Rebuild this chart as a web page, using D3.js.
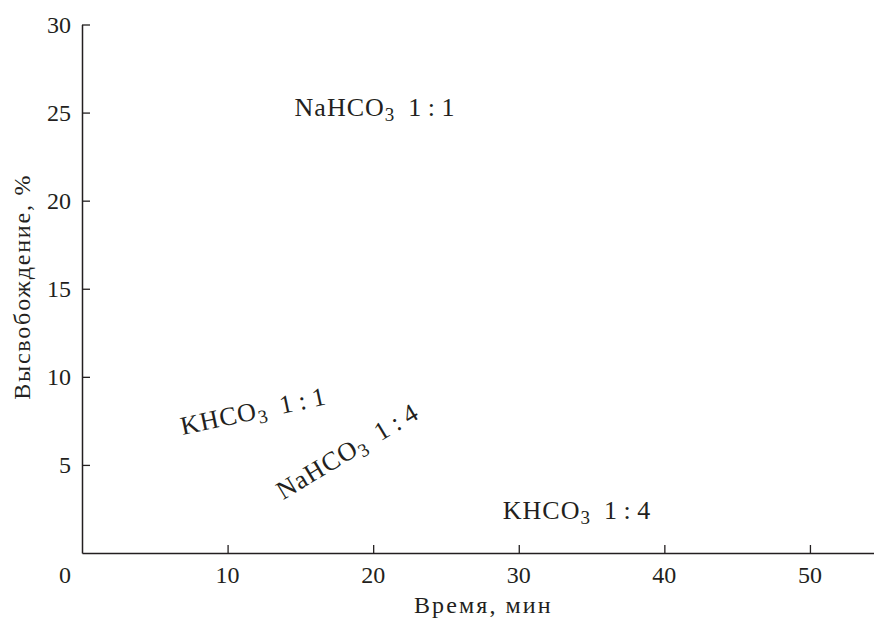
<!DOCTYPE html>
<html>
<head>
<meta charset="utf-8">
<script src="https://cdn.jsdelivr.net/npm/d3@7"></script>
<style>
  body { margin: 0; background: #fff; }
  text { font-family: "Liberation Serif", "Times New Roman", serif; fill: #231f20; }
</style>
</head>
<body>
<svg id="chart" width="874" height="619"></svg>
<script>
// Axis ticks
const xTicks = [10, 20, 30, 40, 50];
const yTicks = [5, 10, 15, 20, 25, 30];
const xDomain = [0, 54.4];
const yDomain = [0, 30];

// Annotation labels (no data curves are drawn in the reference)
const labelNames = ["NaHCO", "KHCO", "NaHCO", "KHCO"];
const labelRatios = ["1 : 1", "1 : 1", "1 : 4", "1 : 4"];
const labelX = [14.6, 6.9, 13.8, 28.9];
const labelY = [24.8, 6.7, 3.0, 1.93];
const labelAngle = [0, -12, -31, 0];

const svg = d3.select("#chart");
const margin = { left: 82, right: 0, top: 24.5, bottom: 66 };
const W = 874, H = 619;

const x = d3.scaleLinear().domain(xDomain).range([margin.left, W - margin.right]);
const y = d3.scaleLinear().domain(yDomain).range([H - margin.bottom, margin.top]);

const ink = "#231f20";
const fs = 24;
const lfs = 26;

// X axis
const xAxis = svg.append("g")
  .attr("transform", `translate(0,${y(0)})`)
  .call(d3.axisTop(x).tickValues(xTicks).tickSize(8).tickSizeOuter(0).tickFormat(""));
xAxis.select(".domain").attr("stroke", ink).attr("stroke-width", 1.5);
xAxis.selectAll(".tick line").attr("stroke", ink).attr("stroke-width", 1.3);

svg.append("g").selectAll("text").data(xTicks).join("text")
  .attr("x", d => x(d))
  .attr("y", y(0) + 30)
  .attr("text-anchor", "middle")
  .attr("font-size", fs)
  .text(d => d);

// Y axis
const yAxis = svg.append("g")
  .attr("transform", `translate(${x(0)},0)`)
  .call(d3.axisRight(y).tickValues(yTicks).tickSize(8).tickSizeOuter(0).tickFormat(""));
yAxis.select(".domain").attr("stroke", ink).attr("stroke-width", 1.5);
yAxis.selectAll(".tick line").attr("stroke", ink).attr("stroke-width", 1.3);

svg.append("g").selectAll("text").data(yTicks).join("text")
  .attr("x", x(0) - 11)
  .attr("y", d => y(d))
  .attr("dy", "0.35em")
  .attr("text-anchor", "end")
  .attr("font-size", fs)
  .text(d => d);

// Origin label
svg.append("text")
  .attr("x", x(0) - 11)
  .attr("y", y(0) + 30)
  .attr("text-anchor", "end")
  .attr("font-size", fs)
  .text("0");

// Axis titles
svg.append("text")
  .attr("x", 414)
  .attr("y", 613)
  .attr("font-size", fs)
  .attr("letter-spacing", 2.1)
  .text("Время, мин");

svg.append("text")
  .attr("transform", `translate(30,${(y.range()[0] + y.range()[1]) / 2 - 2}) rotate(-90)`)
  .attr("text-anchor", "middle")
  .attr("font-size", fs)
  .attr("letter-spacing", 1.8)
  .text("Высвобождение, %");

// Annotation labels
const labels = svg.append("g").selectAll("text").data(labelNames.map((n, i) => i)).join("text")
  .attr("transform", i => `translate(${x(labelX[i])},${y(labelY[i])}) rotate(${labelAngle[i]})`)
  .attr("font-size", lfs);
labels.append("tspan").attr("letter-spacing", 1).text(i => labelNames[i]);
labels.append("tspan").attr("font-size", 19).attr("dy", 5).text("3");
labels.append("tspan").attr("dy", -5).attr("dx", 14).text(i => labelRatios[i]);
</script>
</body>
</html>
